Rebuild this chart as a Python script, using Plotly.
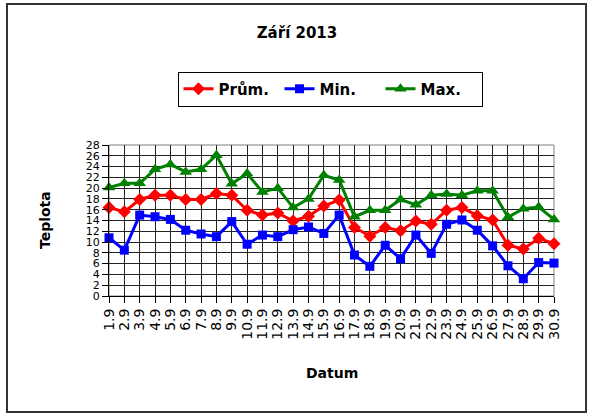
import plotly.graph_objects as go

dates = ["1.9", "2.9", "3.9", "4.9", "5.9", "6.9", "7.9", "8.9", "9.9", "10.9",
         "11.9", "12.9", "13.9", "14.9", "15.9", "16.9", "17.9", "18.9", "19.9", "20.9",
         "21.9", "22.9", "23.9", "24.9", "25.9", "26.9", "27.9", "28.9", "29.9", "30.9"]
prum = [16.4, 15.6, 17.9, 18.7, 18.7, 17.9, 17.9, 19.0, 18.7, 15.9,
        15.0, 15.4, 13.9, 14.8, 16.7, 17.8, 12.7, 11.1, 12.7, 12.1,
        13.9, 13.3, 15.9, 16.4, 14.9, 14.1, 9.4, 8.7, 10.7, 9.7]
minv = [10.8, 8.5, 15.0, 14.7, 14.2, 12.2, 11.5, 11.0, 13.8, 9.6,
        11.3, 11.0, 12.3, 12.8, 11.6, 15.0, 7.6, 5.5, 9.4, 6.9,
        11.3, 7.9, 13.3, 14.1, 12.2, 9.3, 5.6, 3.2, 6.2, 6.1]
maxv = [20.1, 20.9, 20.9, 23.5, 24.4, 23.0, 23.5, 26.1, 20.8, 22.7,
        19.3, 20.0, 16.4, 18.0, 22.4, 21.5, 14.7, 15.9, 15.9, 17.9,
        16.9, 18.7, 18.9, 18.7, 19.5, 19.5, 14.6, 16.2, 16.5, 14.2]
yticks = list(range(0, 29, 2))

idx = list(range(len(dates)))
FONT = "DejaVu Sans"

fig = go.Figure()
series = [
    ("Prům.", prum, "#FF0000", "diamond", 10),
    ("Min.", minv, "#0000FF", "square", 9),
    ("Max.", maxv, "#008000", "triangle-up", 11),
]
for name, vals, col, sym, sz in series:
    fig.add_trace(go.Scatter(
        x=idx, y=vals, name=name, mode="lines+markers",
        line=dict(color=col, width=3),
        marker=dict(symbol=sym, size=sz, color=col),
        cliponaxis=False,
    ))

W, H = 589, 414
L, R, T, B = 109, 554, 145, 296
pw, ph = R - L, B - T

def px(x):
    return (x - L) / pw

def py(y):
    return (B - y) / ph

fig.update_layout(
    width=W, height=H,
    margin=dict(l=L, r=W - R, t=T, b=H - B),
    paper_bgcolor="white", plot_bgcolor="white",
    font=dict(family=FONT, color="black"),
    title=dict(text="Září 2013", x=px(297), xref="paper", xanchor="center",
               y=1 - 33 / H, yref="container", yanchor="middle",
               font=dict(size=15, family=FONT, weight="bold")),
    legend=dict(orientation="h", x=px(330), xanchor="center", y=py(89), yanchor="middle",
                bordercolor="black", borderwidth=1, bgcolor="white",
                font=dict(size=15, family=FONT, weight="bold"),
                itemwidth=30, tracegroupgap=0, entrywidth=56, entrywidthmode="pixels"),
    showlegend=True,
    xaxis=dict(range=[0, len(dates) - 1], tickmode="array", tickvals=idx, ticktext=dates,
               tickangle=-90, tickfont=dict(size=14), ticks="outside", ticklen=6,
               tickcolor="black", showgrid=True, gridcolor="#222222", gridwidth=1,
               showline=True, linecolor="black", linewidth=1, zeroline=False),
    yaxis=dict(range=[0, 28], tickmode="array", tickvals=yticks,
               ticktext=[str(v) for v in yticks], tickfont=dict(size=11),
               ticks="outside", ticklen=6, tickcolor="black",
               showgrid=True, gridcolor="#222222", gridwidth=1,
               showline=True, linecolor="black", linewidth=1, zeroline=False),
    shapes=[
        dict(type="rect", xref="paper", yref="paper", x0=0, x1=1, y0=0, y1=1,
             line=dict(color="#808080", width=1), layer="below"),
        dict(type="rect", xref="paper", yref="paper",
             x0=px(7), x1=px(586), y0=py(412), y1=py(4),
             line=dict(color="#333333", width=2), layer="below"),
    ],
    annotations=[
        dict(text="Datum", xref="paper", yref="paper", x=0.5, y=py(373),
             showarrow=False, xanchor="center", yanchor="middle",
             font=dict(size=14, family=FONT, weight="bold")),
        dict(text="Teplota", xref="paper", yref="paper", x=px(45), y=py(220),
             showarrow=False, textangle=-90, xanchor="center", yanchor="middle",
             font=dict(size=14, family=FONT, weight="bold")),
    ],
)

fig.write_html("out.html", config={"displayModeBar": False},
               post_script="document.body.style.margin='0';")
